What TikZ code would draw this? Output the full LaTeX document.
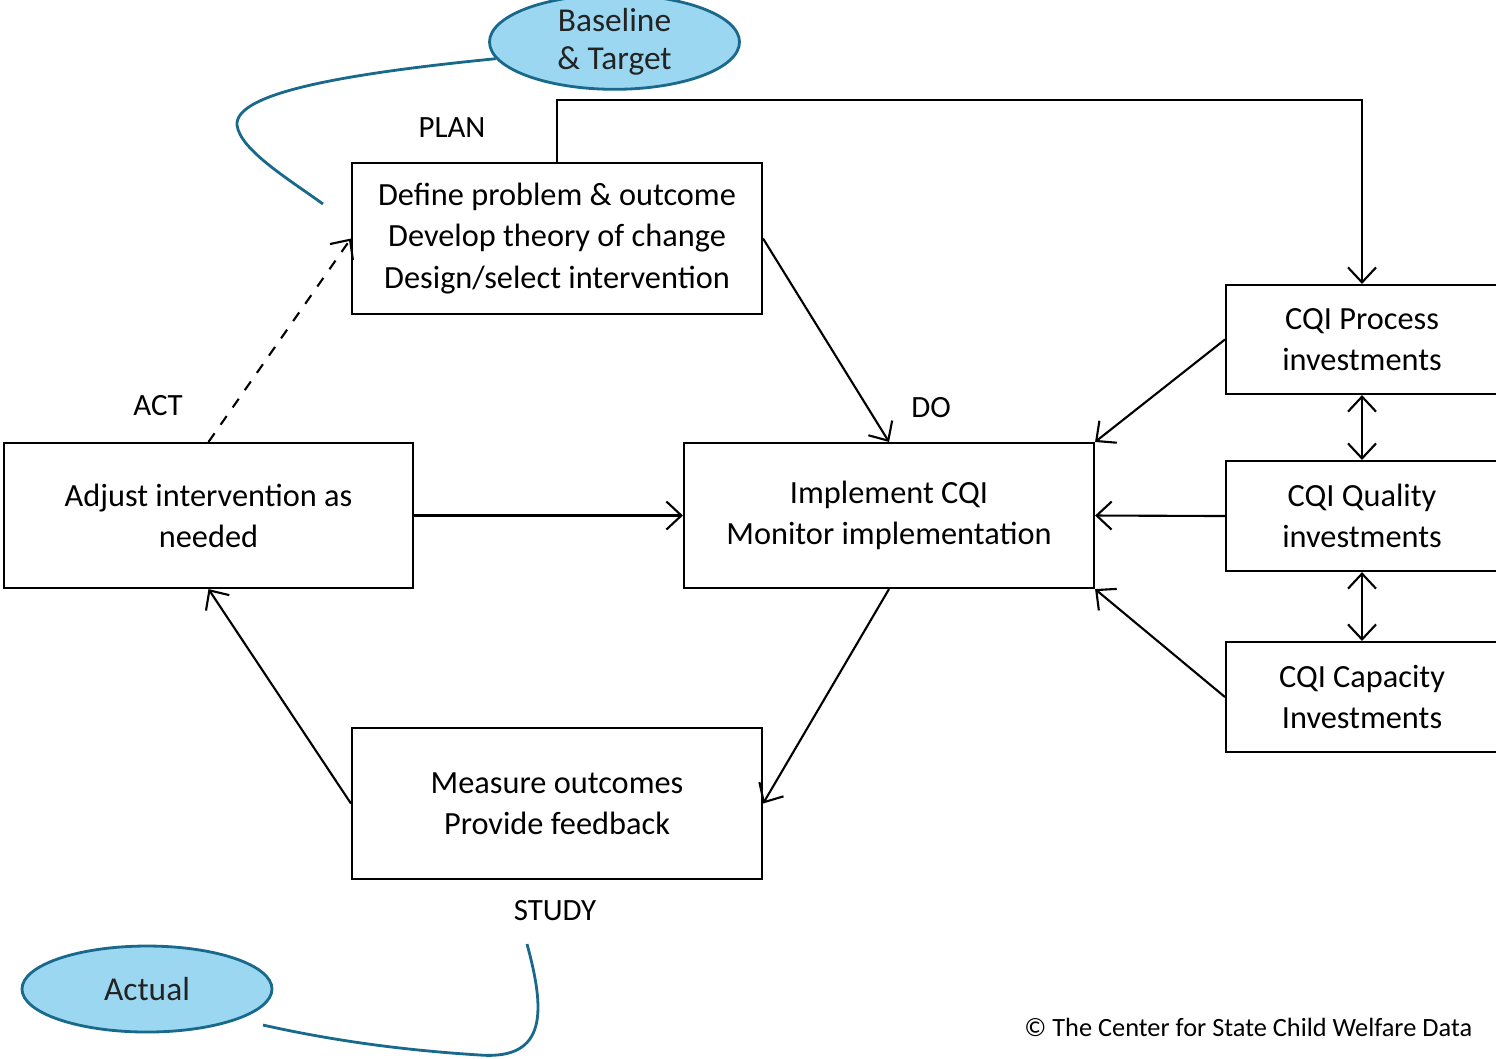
\documentclass[tikz,border=0pt]{standalone}
\usepackage{fontspec}
\setmainfont{Carlito}
\usetikzlibrary{shapes.geometric,arrows.meta,positioning,calc}
\definecolor{ovalblue}{RGB}{155,215,240}
\definecolor{ovalteal}{RGB}{25,105,140}
\definecolor{inkgray}{RGB}{35,35,35}

\tikzset{
  stepbox/.style={draw, line width=0.6pt, rectangle, inner sep=0pt, align=center, font=\fontsize{9.2}{11.7}\selectfont},
  oval/.style={ellipse, draw=ovalteal, line width=0.8pt, fill=ovalblue, inner sep=0pt, minimum width=2.5cm, minimum height=0.86cm, align=center, text=inkgray, font=\fontsize{9.5}{10.8}\selectfont},
  phase/.style={font=\fontsize{8.8}{10}\selectfont},
  flow/.style={->, line width=0.6pt},
  link/.style={ovalteal, line width=0.8pt}
}

\begin{document}
\begin{tikzpicture}[>={Straight Barb[length=1.5mm,width=2.8mm]}]
    \useasboundingbox (0,0) rectangle (14.96,-10.58);

    % PDSA cycle
    \node[stepbox, minimum width=4.10cm, minimum height=1.51cm] (plan) at (5.57,-2.385) {Define problem \& outcome\\Develop theory of change\\Design/select intervention};
    \node[stepbox, minimum width=4.10cm, minimum height=1.45cm] (do) at (8.89,-5.155) {Implement CQI\\Monitor implementation};
    \node[stepbox, minimum width=4.09cm, minimum height=1.45cm] (act) at (2.085,-5.155) {Adjust intervention as\\needed};
    \node[stepbox, minimum width=4.10cm, minimum height=1.51cm] (study) at (5.57,-8.035) {Measure outcomes\\Provide feedback};

    % Phase labels
    \node[phase] (planlbl) at (4.52,-1.28) {PLAN};
    \node[phase] (dolbl) at (9.31,-4.08) {DO};
    \node[phase] (actlbl) at (1.58,-4.06) {ACT};
    \node[phase] (studylbl) at (5.55,-9.11) {STUDY};

    % Investments
    \node[stepbox, minimum width=2.72cm, minimum height=1.09cm] (proc) at (13.62,-3.395) {CQI Process\\investments};
    \node[stepbox, minimum width=2.72cm, minimum height=1.10cm] (qual) at (13.62,-5.16) {CQI Quality\\investments};
    \node[stepbox, minimum width=2.72cm, minimum height=1.10cm] (cap) at (13.62,-6.97) {CQI Capacity\\Investments};

    % Ovals
    \node[oval] (base) at (6.145,-0.42) {Baseline\\\& Target};
    \node[oval] (actual) at (1.47,-9.89) {Actual};

    % Cycle arrows
    \draw[flow] (plan.east) -- (do.north);
    \draw[flow] (do.south) -- (study.east);
    \draw[flow] (study.west) -- (act.south);
    \draw[flow] (act.east) -- (do.west);
    \draw[flow, dashed] (act.north) -- (plan.west);
    \draw[flow] (plan.north) -- ++(0,0.62) -| (proc.north);

    % Investments into DO
    \draw[flow] (proc.west) -- (do.north east);
    \draw[flow] (qual.west) -- (do.east);
    \draw[flow] (cap.west) -- (do.south east);
    \draw[<->, line width=0.6pt] (proc.south) -- (qual.north);
    \draw[<->, line width=0.6pt] (qual.south) -- (cap.north);

    % Oval links
    \coordinate (plantail) at (3.23,-2.04);
    \draw[link] (base.188) .. controls (3.3,-0.75) and (2.35,-0.95) .. (2.37,-1.25) .. controls (2.40,-1.50) and (2.90,-1.80) .. (plantail);
    \coordinate (studytail) at (5.27,-9.44);
    \coordinate (acttail) at (2.63,-10.25);
    \draw[link] (studytail) .. controls (5.45,-10.1) and (5.48,-10.6) .. (4.80,-10.55) .. controls (4.0,-10.5) and (3.3,-10.4) .. (acttail);

    % Credit
    \node[font=\fontsize{7.5}{9}\selectfont, anchor=west] (credit) at (10.12,-10.27) {© The Center for State Child Welfare Data};
\end{tikzpicture}
\end{document}
